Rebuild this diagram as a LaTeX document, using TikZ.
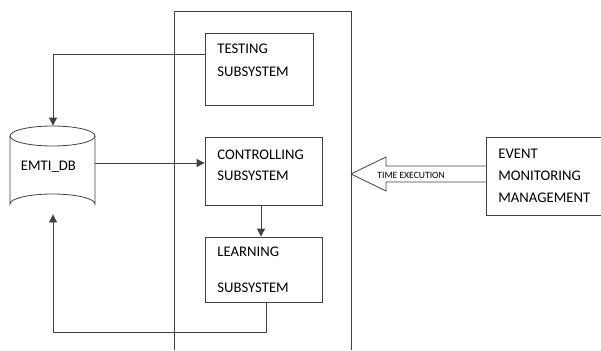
\documentclass[tikz,border=0pt]{standalone}
\usepackage{fontspec}
\setmainfont{Carlito}
\usetikzlibrary{arrows.meta,calc}
\begin{document}
\begin{tikzpicture}[x=1pt,y=-1pt,
  line width=0.8pt,
  ln/.style={draw=black!75},
  boxst/.style={draw=black!75,rectangle,inner sep=0pt,fill=white},
  txt/.style={anchor=base west,inner sep=0pt,font=\fontsize{14.7}{22}\selectfont},
  arr/.style={draw=black!75,-{Triangle[length=8pt,width=8pt]}}
]
\useasboundingbox (0,0) rectangle (601,350);
% outer frame
\draw[ln] (174,350) -- (174,11) -- (351,11) -- (351,350);
% boxes
\node[boxst,minimum width=108,minimum height=72] (test) at (259,69) {};
\node[boxst,minimum width=117,minimum height=68] (ctl) at (263.5,171) {};
\node[boxst,minimum width=117,minimum height=65] (lrn) at (263.5,269.5) {};
\node[boxst,minimum width=120,minimum height=78] (evt) at (546,176) {};
% texts
\node[txt] (t1) at (217,54) {TESTING};
\node[txt] (t2) at (217,76.5) {SUBSYSTEM};
\node[txt] (c1) at (217,159) {CONTROLLING};
\node[txt] (c2) at (217,180.5) {SUBSYSTEM};
\node[txt] (l1) at (217,256.5) {LEARNING};
\node[txt] (l2) at (217,292) {SUBSYSTEM};
\node[txt] (e1) at (498,158) {EVENT};
\node[txt] (e2) at (498,180.5) {MONITORING};
\node[txt] (e3) at (498,202.5) {MANAGEMENT};
% database cylinder
\draw[ln] (10,136) arc[start angle=180,end angle=0,x radius=42.5,y radius=10]
  arc[start angle=0,end angle=-180,x radius=42.5,y radius=10];
\draw[ln] (10,136) -- (10,204) arc[start angle=180,end angle=360,x radius=42.5,y radius=10] -- (95,136);
\node[inner sep=0pt,minimum width=85,minimum height=88] (db) at (52.5,170) {};
\node[txt] (dbl) at (20.5,170) {EMTI\_DB};
% connectors
\coordinate (tw) at ($(test.west)+(0,-15)$);
\draw[arr] (tw) -| ($(db.north)+(0.5,0)$);
\coordinate (de) at ($(db.east)+(0,-7)$);
\draw[arr] (de) -- (de -| ctl.west);
\coordinate (cs) at ($(ctl.south)+(-2.5,0)$);
\draw[arr] (cs) -- (cs |- lrn.north);
\coordinate (ls) at ($(lrn.south)+(2.5,0)$);
\coordinate (lb) at ($(ls)+(0,30)$);
\draw[arr] (ls) -- (lb) -| ($(db.south)+(0.5,0)$);
% big arrow
\coordinate (tip) at (351,174);
\draw[ln,fill=white] (evt.west |- 0,166) -- (386,166) -- (386,157) -- (tip) -- (386,191) -- (386,182) -- (evt.west |- 0,182);
\node[anchor=base west,inner sep=0pt,font=\fontsize{9.6}{11}\selectfont] (te) at (377,178) {TIME EXECUTION};
\end{tikzpicture}
\end{document}
